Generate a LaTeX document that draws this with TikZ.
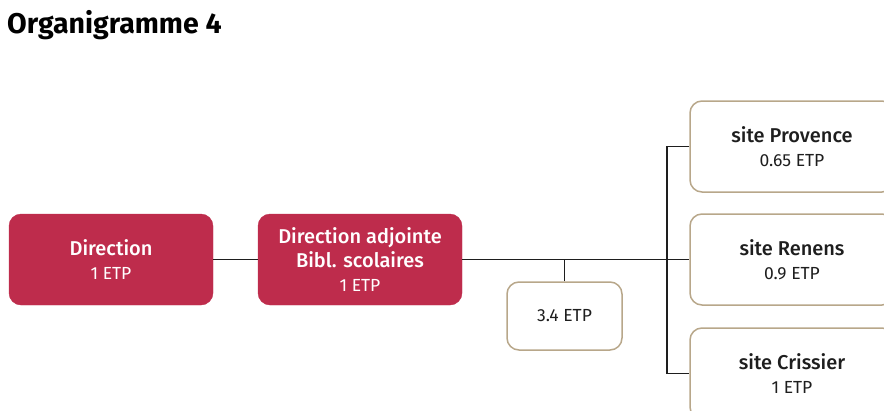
\documentclass[tikz,border=0pt]{standalone}
\usepackage{fontspec}
\setmainfont{Fira Sans}
\newfontfamily\medfont{Fira Sans Medium}
\usepackage{tikz}

\definecolor{crimson}{RGB}{190,44,76}
\definecolor{sand}{RGB}{184,167,138}
\definecolor{ink}{RGB}{30,30,30}

\newcommand{\etpline}[1]{{\normalfont\fontsize{17.5}{24}\selectfont #1}}

\begin{document}
\begin{tikzpicture}[x=1pt, y=-1pt, every node/.style={font=\medfont\fontsize{20}{24}\selectfont}]

	% Fix the page to the reference size
	\useasboundingbox (0,0) rectangle (884,410);

	% Styles for the filled boxes and the outlined boxes
	\tikzset{
		unit filled/.style={fill=crimson, draw=crimson, text=white, rounded corners=12pt,
			minimum width=204pt, minimum height=91pt, align=center},
		unit outlined/.style={fill=white, draw=sand, line width=1.5pt, text=ink, rounded corners=12pt,
			minimum width=204pt, minimum height=91pt, align=center},
		link/.style={draw=ink, line width=1.2pt}
	};

	% Title
	\node[anchor=base west, inner sep=0pt, font=\bfseries\fontsize{28.5}{30}\selectfont] (title) at (7,33) {Organigramme 4};

	% Direction and deputy direction
	\node[unit filled] (direction) at (111,259.5) {Direction\\\etpline{1 ETP}};
	\node[unit filled] (adjointe) at (360,259.5) {Direction adjointe\\Bibl. scolaires\\\etpline{1 ETP}};

	% Pool below the main line
	\node[unit outlined, minimum width=115pt, minimum height=68pt] (pool) at (564.5,316) {\etpline{3.4 ETP}};

	% Sites on the right
	\node[unit outlined] (provence) at (792,146.5) {site Provence\\\etpline{0.65 ETP}};
	\node[unit outlined] (renens) at (792,259.5) {site Renens\\\etpline{0.9 ETP}};
	\node[unit outlined] (crissier) at (792,373.5) {site Crissier\\\etpline{1 ETP}};

	% Connectors
	\coordinate (fork) at (667,259.5);
	\draw[link] (direction) -- (adjointe);
	\draw[link] (adjointe.east) -- (renens.west);
	\draw[link] (pool.north) -- (pool.north |- adjointe.east);
	\draw[link] (provence.west) -| (fork) |- (crissier.west);
\end{tikzpicture}
\end{document}
